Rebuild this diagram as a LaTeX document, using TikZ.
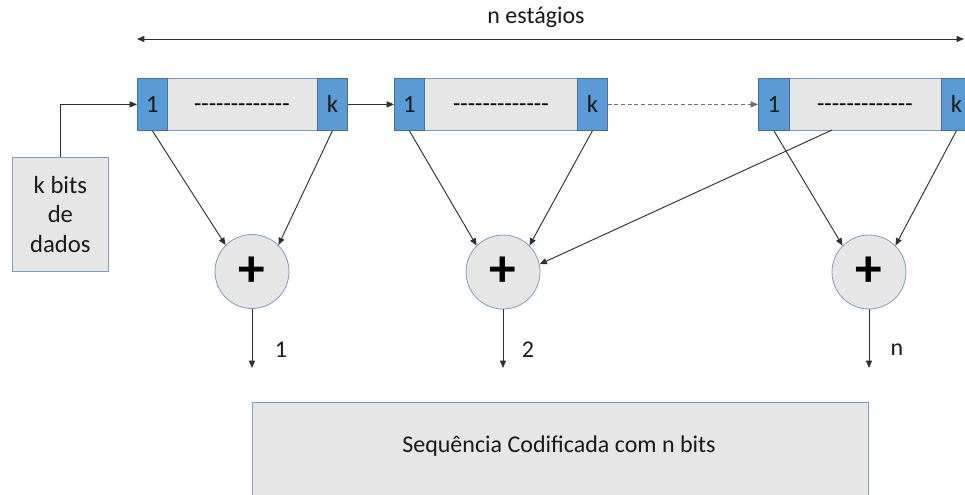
\documentclass[tikz,border=0pt]{standalone}
\usepackage{fontspec}
\setmainfont{Carlito}
\usetikzlibrary{arrows.meta}
\definecolor{cellblue}{HTML}{5B9BD5}
\definecolor{cellborder}{HTML}{41719C}
\definecolor{boxgray}{HTML}{E6E6E6}
\definecolor{lightborder}{HTML}{7F9CC2}
\definecolor{wire}{HTML}{303030}
\newcommand{\hyph}{\raisebox{-5pt}[0pt][0pt]{\mbox{-}\mbox{-}\mbox{-}\mbox{-}\mbox{-}\mbox{-}\mbox{-}\mbox{-}\mbox{-}\mbox{-}\mbox{-}\mbox{-}\mbox{-}}}
\tikzset{
  px/.style={x=0.75pt,y=-0.75pt},
  regbox/.style={draw=cellborder!70, fill=boxgray, line width=0.6pt, inner sep=0pt, anchor=north west, minimum height=52*0.75pt, font=\fontsize{18}{21}\selectfont},
  cellbox/.style={draw=cellborder, fill=cellblue, line width=0.6pt, inner sep=0pt, anchor=north west, minimum height=52*0.75pt, minimum width=30*0.75pt, font=\fontsize{18.5}{21}\selectfont, text=black!90},
  adder/.style={circle, draw=lightborder, fill=boxgray, line width=0.6pt, minimum size=74*0.75pt, inner sep=0pt, font=\fontsize{40}{40}\selectfont\bfseries},
  graybox/.style={draw=lightborder, fill=boxgray, line width=0.6pt, inner sep=0pt, anchor=north west},
  conn/.style={draw=wire, line width=0.7pt, -{Triangle[length=5.5pt,width=4.5pt]}},
  lbl/.style={font=\fontsize{18}{21}\selectfont, text=black!90, inner sep=0pt},
}
\begin{document}
\begin{tikzpicture}[px]
\useasboundingbox (0,0) rectangle (965,494);
% top span arrow
\coordinate (ta) at (137,39);
\coordinate (tb) at (964,39);
\draw[wire, line width=0.7pt, {Triangle[length=5.5pt,width=4.5pt]}-{Triangle[length=5.5pt,width=4.5pt]}] (ta) -- (tb);
\node[lbl] (title) at (536,17) {n estágios};
% registers
\node[regbox, minimum width=209*0.75pt] (r1) at (137,78) {\hyph};
\node[cellbox] (r1a) at (137,78) {1};
\node[cellbox] (r1b) at (317,78) {k};
\node[regbox, minimum width=213*0.75pt] (r2) at (394,78) {\hyph};
\node[cellbox] (r2a) at (394,78) {1};
\node[cellbox] (r2b) at (577,78) {k};
\node[regbox, minimum width=213*0.75pt] (r3) at (758,78) {\hyph};
\node[cellbox, minimum width=31*0.75pt] (r3a) at (758,78) {1};
\node[cellbox] (r3b) at (941,78) {k};
% input box
\node[graybox, minimum width=96*0.75pt, minimum height=114*0.75pt, align=center, font=\fontsize{18.5}{22}\selectfont, text=black!90] (in) at (12,157) {k bits\\de\\dados};
% adders
\node[adder] (c1) at (252,271.5) {+};
\node[adder] (c2) at (503,272) {+};
\node[adder] (c3) at (869,272) {+};
% output box
\node[graybox, minimum width=616*0.75pt, minimum height=100*0.75pt] (out) at (252,402) {};
\node[lbl] (outtxt) at (559,446) {Sequência Codificada com n bits};
% shift connections
\draw[conn] (in.north) |- (r1a.west);
\draw[conn] (r1b.east) -- (r2a.west);
\draw[conn, draw=wire!70, dashed, dash pattern=on 3pt off 2pt] (r2b.east) -- (r3a.west);
% taps
\draw[conn] (r1a.south) -- (c1.135);
\draw[conn] (r1b.south) -- (c1.45);
\draw[conn] (r2a.south) -- (c2.135);
\draw[conn] (r2b.south) -- (c2.45);
\coordinate (r3m) at (832,130);
\draw[conn] (r3a.south) -- (c3.135);
\draw[conn] (r3b.south) -- (c3.45);
\draw[conn] (r3m) -- (c2.12);
% outputs
\coordinate (o1) at (252,368);
\coordinate (o2) at (503,368);
\coordinate (o3) at (869,368);
\draw[conn] (c1.south) -- (o1);
\draw[conn] (c2.south) -- (o2);
\draw[conn] (c3.south) -- (o3);
\node[lbl] (l1) at (281,350) {1};
\node[lbl] (l2) at (528,350) {2};
\node[lbl] (l3) at (897,350) {n};
\end{tikzpicture}
\end{document}
